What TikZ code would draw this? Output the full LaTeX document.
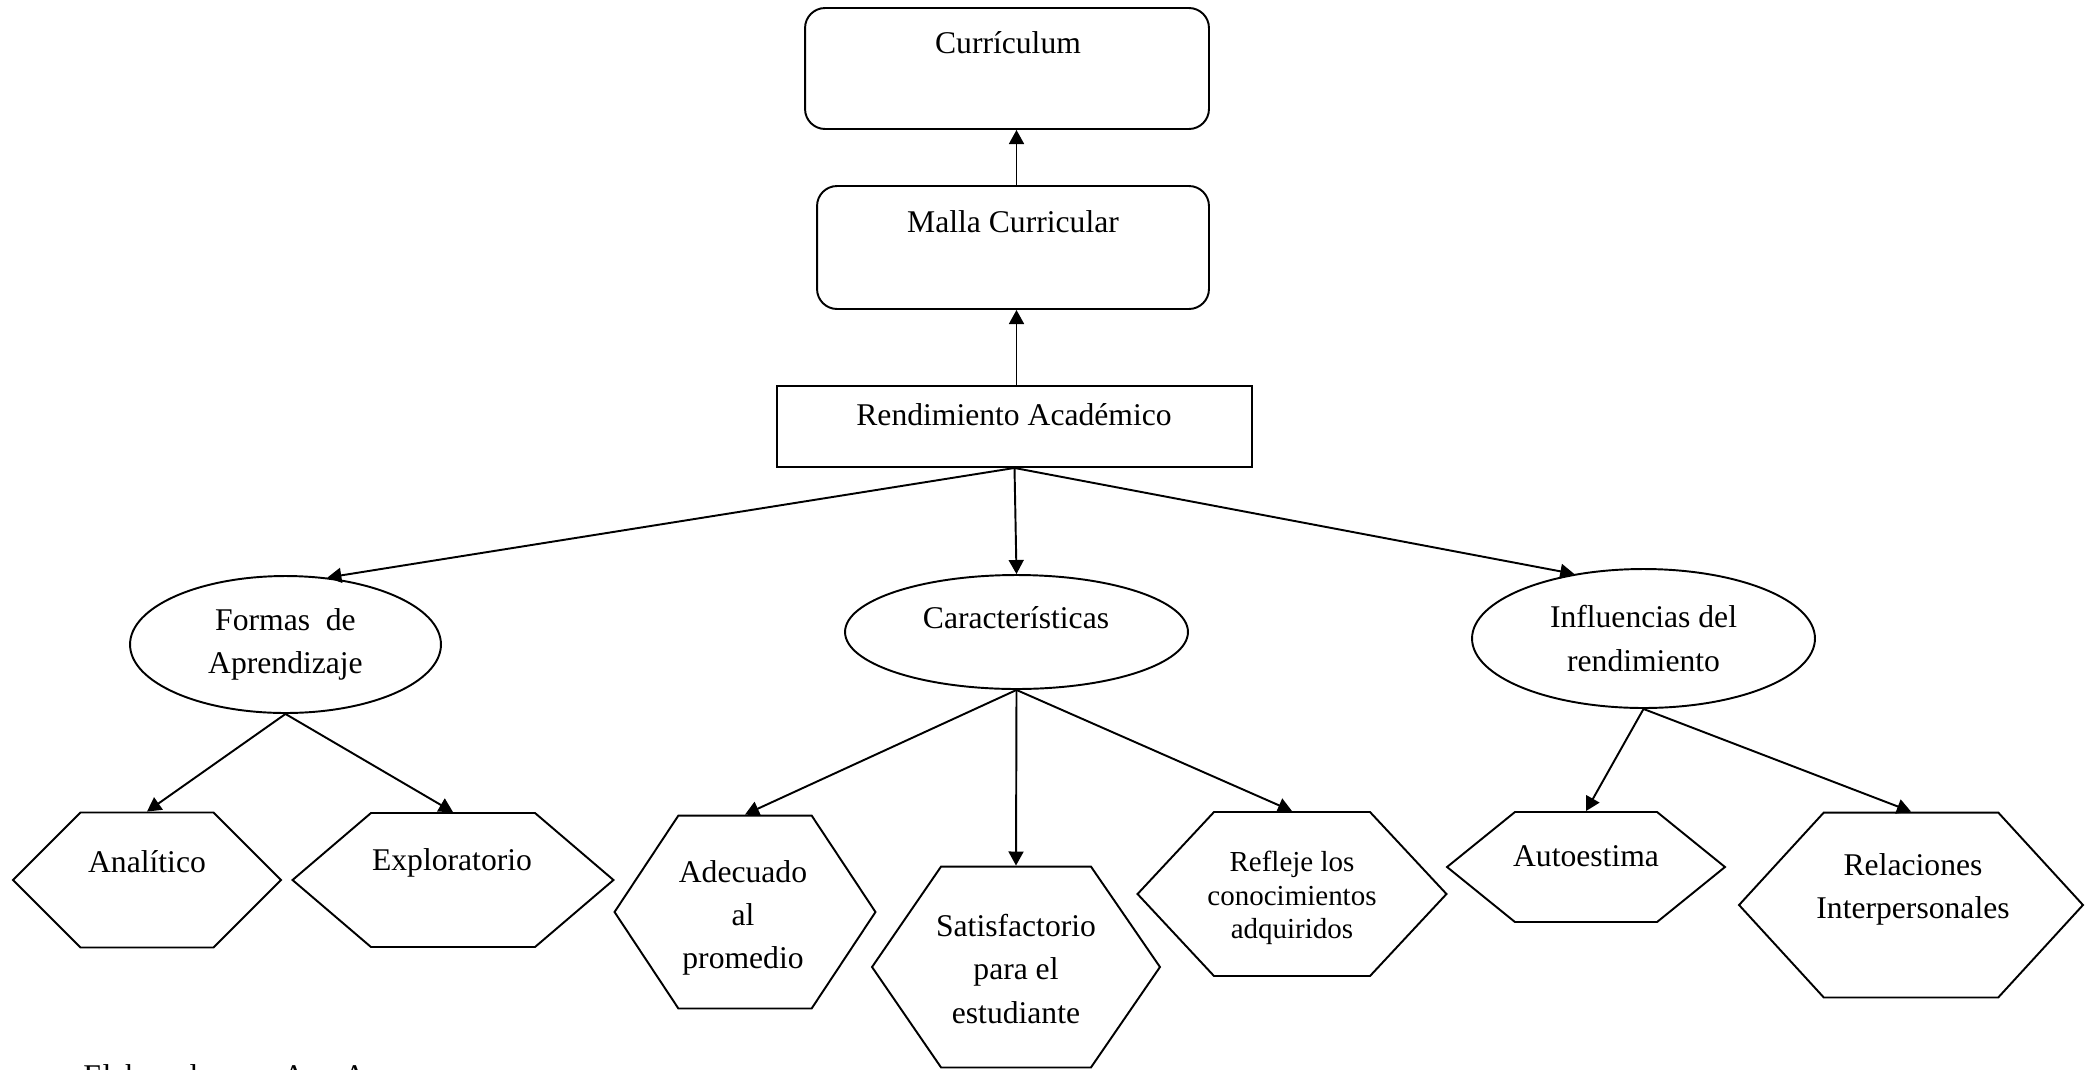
\documentclass[tikz,border=0pt]{standalone}
\usepackage{fontspec}
\setmainfont{Liberation Serif}
\usetikzlibrary{shapes.geometric,shapes.symbols,arrows.meta,positioning}

\begin{document}
\begin{tikzpicture}[x=0.02cm, y=-0.02cm,
                    every node/.style={font=\fontsize{18}{24.5}\selectfont},
                    rbox/.style={draw, line width=1.1pt, rectangle, rounded corners=0.4cm},
                    sbox/.style={draw, line width=1.1pt, rectangle},
                    oval/.style={draw, line width=1.1pt, ellipse, inner sep=0pt, align=center},
                    hexa/.style={draw, line width=1.1pt, signal, signal to=east and west, inner sep=0pt},
                    txt/.style={inner sep=0pt, align=center},
                    line/.style={draw, line width=1.1pt, -{Triangle[length=8pt, width=8.5pt]}}]
    \path [use as bounding box, clip] (0,0) rectangle (2085,1069);
    \fill [white] (0,0) rectangle (2085,1069);

    % Nodes
    \node [rbox, minimum width=8.08cm, minimum height=2.42cm] (curr)  at (1007,68.5)  {};
    \node [rbox, minimum width=7.84cm, minimum height=2.46cm] (malla) at (1013,247.5) {};
    \node [sbox, minimum width=9.5cm,  minimum height=1.62cm] (rend)  at (1014.5,426.5) {};
    \node [txt] (currT)  at (1008,43)  {Currículum};
    \node [txt] (mallaT) at (1013,222) {Malla Curricular};
    \node [txt] (rendT)  at (1014,415) {Rendimiento Académico};

    \node [oval, minimum width=6.22cm, minimum height=2.74cm] (form) at (285.5,644.5) {Formas\ \ de\\Aprendizaje};
    \node [oval, minimum width=6.86cm, minimum height=2.28cm] (cara) at (1016.5,632) {};
    \node [oval, minimum width=6.86cm, minimum height=2.78cm] (infl) at (1643.5,638.5) {Influencias del\\rendimiento};
    \node [txt] (caraT) at (1016,618) {Características};

    \node [hexa, minimum width=5.36cm, minimum height=2.7cm,  signal pointer angle=90]  (anal)  at (147,880)  {};
    \node [hexa, minimum width=6.42cm, minimum height=2.68cm, signal pointer angle=81]  (expl)  at (453,880)  {};
    \node [hexa, minimum width=5.22cm, minimum height=3.86cm, signal pointer angle=113] (adec)  at (745,912)  {};
    \node [hexa, minimum width=5.76cm, minimum height=4.02cm, signal pointer angle=111] (satis) at (1016,967) {};
    \node [hexa, minimum width=6.18cm, minimum height=3.28cm, signal pointer angle=94]  (refl)  at (1292,894) {};
    \node [hexa, minimum width=5.56cm, minimum height=2.2cm,  signal pointer angle=78]  (auto)  at (1586,867) {};
    \node [hexa, minimum width=6.88cm, minimum height=3.7cm,  signal pointer angle=95]  (rela)  at (1911,905) {};

    \node [txt] (analT)  at (147,862)  {Analítico};
    \node [txt] (explT)  at (452,863)  {Exploratorio};
    \node [txt] (adecT)  at (743,918)  {Adecuado\\al\\promedio};
    \node [txt] (satisT) at (1016,969) {Satisfactorio\\para el\\estudiante};
    \node [txt, font=\fontsize{16.5}{19}\selectfont] (reflT) at (1292,898) {Refleje los\\conocimientos\\adquiridos};
    \node [txt] (autoT)  at (1586,856) {Autoestima};
    \node [txt] (relaT)  at (1913,889) {Relaciones\\Interpersonales};

    \node [txt, anchor=base west] (autor) at (83,1086) {Elaborado por: Ana A};

    % Paths
    \path [line] (cara.north |- rend.north) -- (cara.north |- malla.south);
    \path [line] (cara.north |- malla.north) -- (cara.north |- curr.south);
    \path [line] (rend.south) -- (form.58);
    \path [line] (rend.south) -- (cara.north);
    \path [line] (rend.south) -- (infl.137);
    \path [line] (form.south) -- (anal.north);
    \path [line] (form.south) -- (expl.north);
    \path [line] (cara.south) -- (adec.north);
    \path [line] (cara.south) -- (satis.north);
    \path [line] (cara.south) -- (refl.north);
    \path [line] (infl.south) -- (auto.north);
    \path [line] (infl.south) -- (rela.north);
\end{tikzpicture}
\end{document}
